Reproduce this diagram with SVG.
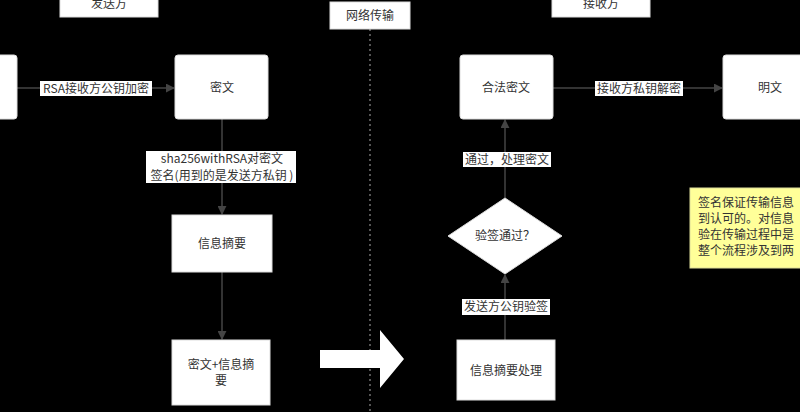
<svg xmlns="http://www.w3.org/2000/svg" width="800" height="412" viewBox="0 0 800 412">
<defs>
<style>
.b{fill:#fff;stroke:#ddd;stroke-width:1}
text{font-family:"Noto Sans CJK SC","Liberation Sans",sans-serif;font-size:12px;fill:#333}
.c{text-anchor:middle}
.l{stroke:#444;stroke-width:1.5;fill:none}
.lb{fill:#fff}
</style>
<marker id="a" viewBox="0 0 10 10" refX="9" refY="5" markerWidth="6" markerHeight="6" orient="auto"><path d="M0,0L10,5L0,10z" fill="#444"/></marker>
</defs>
<rect width="800" height="412" fill="#000"/>
<g id="conn">
<line x1="370" y1="29" x2="370" y2="412" stroke="#555" stroke-width="2" stroke-dasharray="2,3"/>
<line class="l" x1="17" y1="88" x2="174" y2="88" marker-end="url(#a)"/>
<rect class="lb" x="40" y="81" width="112" height="15"/>
<text class="c" x="96" y="93">RSA接收方公钥加密</text>
<line class="l" x1="222" y1="119" x2="222" y2="214" marker-end="url(#a)"/>
<rect class="lb" x="146" y="151" width="150" height="32"/>
<text class="c" x="222" y="163">sha256withRSA对密文</text>
<text class="c" x="222" y="180">签名(用到的是发送方私钥 )</text>
<line class="l" x1="222" y1="272" x2="222" y2="339" marker-end="url(#a)"/>
<path d="M320,350H380V330L404,359L380,388V368H320z" fill="#fff"/>
<line class="l" x1="505" y1="340" x2="505" y2="275" marker-end="url(#a)"/>
<rect class="lb" x="462" y="299" width="88" height="16"/>
<text class="c" x="506" y="311">发送方公钥验签</text>
<line class="l" x1="505" y1="198" x2="505" y2="120" marker-end="url(#a)"/>
<rect class="lb" x="463" y="152" width="88" height="15"/>
<text class="c" x="507" y="164">通过，处理密文</text>
<line class="l" x1="553" y1="88" x2="722" y2="88" marker-end="url(#a)"/>
<rect class="lb" x="595" y="81" width="88" height="15"/>
<text class="c" x="639" y="93">接收方私钥解密</text>
</g>
<g id="sender"><rect class="b" x="60" y="-10" width="98" height="27"/><text class="c" x="109" y="8">发送方</text></g>
<g id="receiver"><rect class="b" x="552" y="-10" width="98" height="27"/><text class="c" x="601" y="8">接收方</text></g>
<g id="net"><rect class="b" x="330" y="2" width="80" height="27"/><text class="c" x="370" y="20">网络传输</text></g>
<g id="plain0"><rect class="b" x="-10" y="55" width="27" height="64" rx="3"/></g>
<g id="cipher"><rect class="b" x="175" y="55" width="93" height="64" rx="3"/><text class="c" x="222" y="92">密文</text></g>
<g id="digest"><rect class="b" x="172" y="215" width="100" height="57"/><text class="c" x="222" y="248">信息摘要</text></g>
<g id="combo"><rect class="b" x="172" y="340" width="98" height="65"/><text class="c" x="221" y="369">密文+信息摘</text><text class="c" x="221" y="385">要</text></g>
<g id="verify"><path class="b" d="M505,198L562,236L505,274L448,236z"/><text class="c" x="505" y="240">验签通过？</text></g>
<g id="proc"><rect class="b" x="457" y="340" width="98" height="60"/><text class="c" x="506" y="375">信息摘要处理</text></g>
<g id="legal"><rect class="b" x="460" y="55" width="93" height="64" rx="3"/><text class="c" x="506" y="92">合法密文</text></g>
<g id="plain"><rect class="b" x="723" y="55" width="95" height="64" rx="3"/><text class="c" x="770" y="92">明文</text></g>
<g id="note"><rect x="690" y="188" width="120" height="80" fill="#ffff99" stroke="#dd9"/>
<text x="698" y="207">签名保证传输信息</text><text x="698" y="223">到认可的。对信息</text><text x="698" y="239">验在传输过程中是</text><text x="698" y="255">整个流程涉及到两</text></g>
</svg>
